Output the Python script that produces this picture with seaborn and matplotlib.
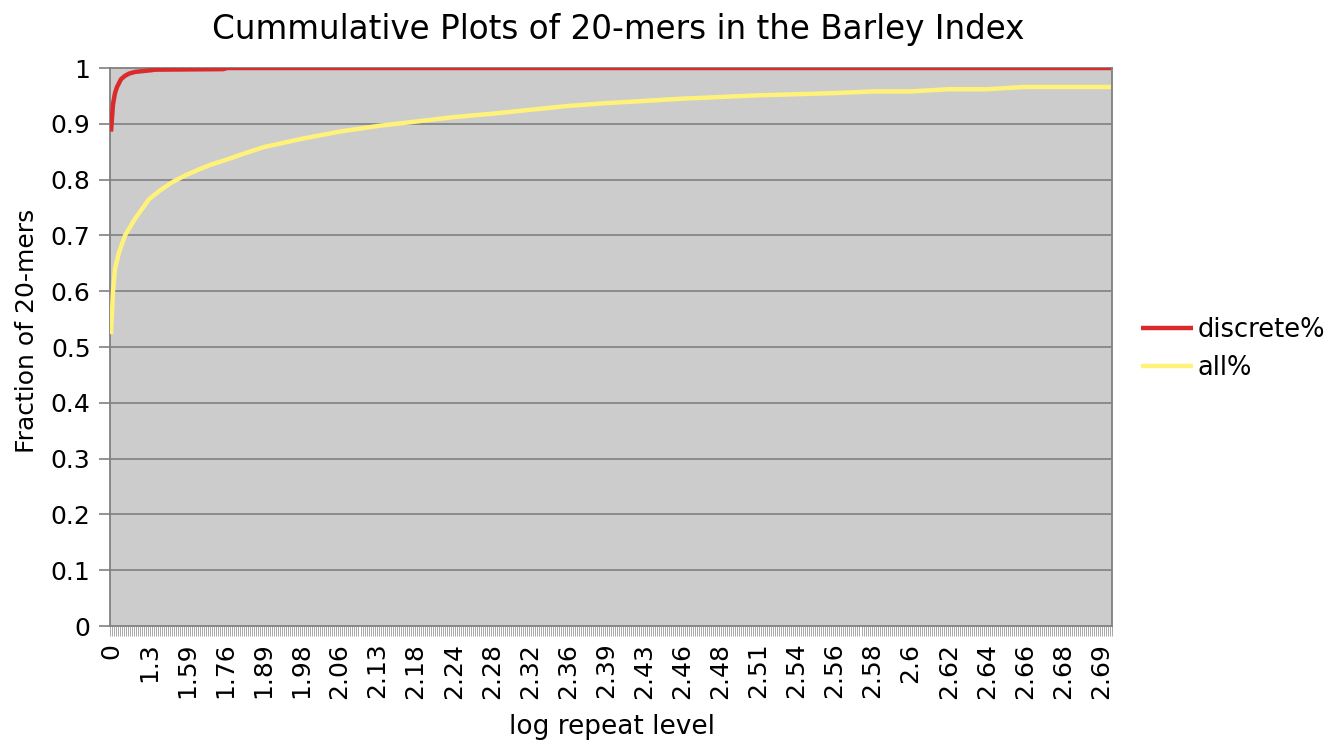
import numpy as np
import pandas as pd
import matplotlib
matplotlib.use("Agg")
import matplotlib.pyplot as plt
import seaborn as sns

# ---- data ----
n_categories = 500  # repeat levels 1..500 on a categorical axis
tick_labels = ["0", "1.3", "1.59", "1.76", "1.89", "1.98", "2.06", "2.13", "2.18",
               "2.24", "2.28", "2.32", "2.36", "2.39", "2.43", "2.46", "2.48", "2.51",
               "2.54", "2.56", "2.58", "2.6", "2.62", "2.64", "2.66", "2.68", "2.69"]
tick_every = 19

discrete_cat = [0, 1, 2, 3, 5, 7, 9, 12, 20, 22, 56, 58, 499]
discrete_pct = [0.886, 0.935, 0.955, 0.966, 0.980, 0.986, 0.990, 0.993, 0.996, 0.997,
                0.998, 1.0, 1.0]

all_cat = [0, 1, 2, 4, 7, 12, 19, 25, 30, 34, 38, 45, 50, 57, 65, 76, 95, 114, 133,
           152, 171, 190, 209, 228, 247, 266, 285, 304, 323, 342, 361, 380, 399, 418,
           437, 456, 475, 499]
all_pct = [0.523, 0.600, 0.640, 0.670, 0.700, 0.730, 0.765, 0.782, 0.794, 0.802,
           0.809, 0.820, 0.827, 0.835, 0.845, 0.858, 0.873, 0.886, 0.896, 0.904,
           0.912, 0.918, 0.925, 0.932, 0.937, 0.941, 0.945, 0.948, 0.951, 0.953,
           0.955, 0.958, 0.958, 0.962, 0.962, 0.966, 0.966, 0.966]

series_names = ["discrete%", "all%"]
series_colors = ["#D92B2B", "#FFF27A"]

df = pd.concat([
    pd.DataFrame({"cat": discrete_cat, "val": discrete_pct, "series": series_names[0]}),
    pd.DataFrame({"cat": all_cat, "val": all_pct, "series": series_names[1]}),
])

# ---- plot ----
sns.set_theme(style="white")
plt.rcParams["font.family"] = ["DejaVu Sans"]
plt.rcParams["text.color"] = "black"
plt.rcParams["axes.labelcolor"] = "black"
plt.rcParams["xtick.labelcolor"] = "black"
plt.rcParams["ytick.labelcolor"] = "black"

fig = plt.figure(figsize=(13.33, 7.42), dpi=100)
ax = fig.add_axes([110 / 1333, 1 - 626 / 742, (1112 - 110) / 1333, (626 - 68) / 742])
ax.set_facecolor("#CCCCCC")

sns.lineplot(data=df, x="cat", y="val", hue="series", palette=series_colors,
             hue_order=series_names, linewidth=3.2, ax=ax, zorder=3,
             solid_capstyle="butt")

ax.set_xlim(-0.5, n_categories - 0.5)
ax.set_ylim(0, 1)

yt = np.round(np.arange(0, 1.01, 0.1), 1)
ax.set_yticks(yt)
ax.set_yticklabels([f"{v:g}" for v in yt], fontsize=18)
for v in yt[1:-1]:
    ax.axhline(v, color="#808080", linewidth=1.2, zorder=1)
ax.tick_params(axis="y", which="major", direction="out", length=8, width=1.2,
               color="#808080", pad=6, left=True)

pos = [tick_every * k for k in range(len(tick_labels))]
ax.set_xticks(pos)
ax.set_xticklabels(tick_labels, rotation=90, fontsize=18)
ax.set_xticks(np.arange(-0.5, n_categories, 1), minor=True)
ax.tick_params(axis="x", which="major", length=0, pad=12, bottom=True)
ax.tick_params(axis="x", which="minor", direction="out", length=7, width=0.6,
               color="#9A9A9A", bottom=True)

for s in ["left", "right", "top", "bottom"]:
    ax.spines[s].set_color("#808080")
    ax.spines[s].set_linewidth(1.3)

ax.set_xlabel("")
ax.set_ylabel("")
fig.text(612 / 1333, 1 - 727 / 742, "log repeat level", fontsize=19,
         ha="center", va="center")
fig.text(27 / 1333, 1 - 331 / 742, "Fraction of 20-mers", fontsize=18,
         ha="center", va="center", rotation=90)
fig.text(618 / 1333, 1 - 30 / 742, "Cummulative Plots of 20-mers in the Barley Index",
         fontsize=23.5, ha="center", va="center")

leg = ax.legend(loc="center left", bbox_to_anchor=(1118 / 1333, 1 - 349 / 742),
                bbox_transform=fig.transFigure, frameon=False, fontsize=18.5,
                handlelength=2.0, handletextpad=0.2, labelspacing=0.45, title=None)

fig.savefig("out.png", dpi=100)
